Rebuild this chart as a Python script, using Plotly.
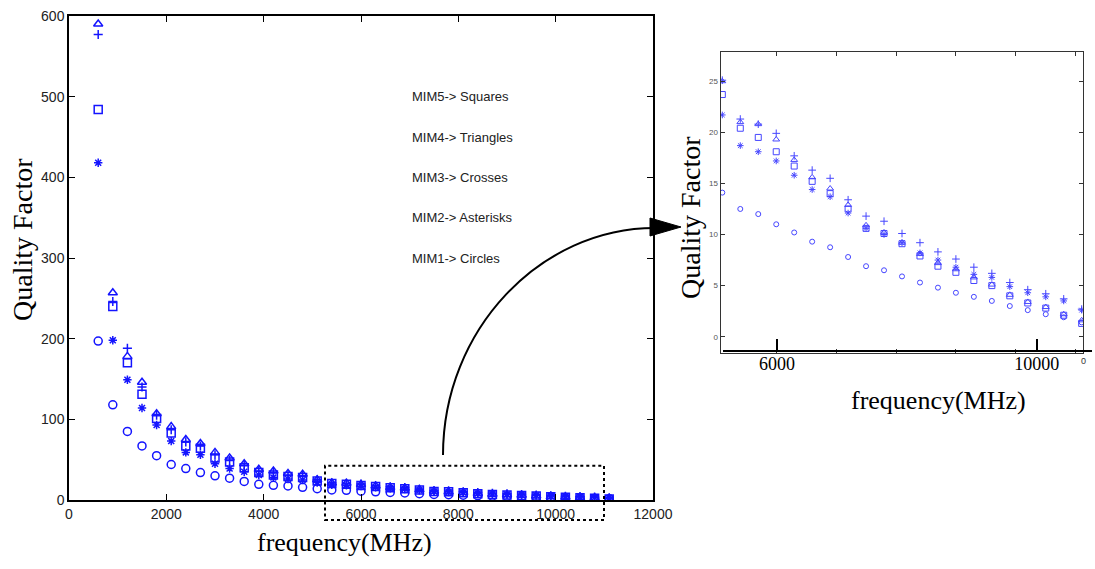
import plotly.graph_objects as go

# ---------------- data ----------------
freq = [600, 900, 1200, 1500, 1800, 2100, 2400, 2700, 3000, 3300, 3600, 3900,
        4200, 4500, 4800, 5100, 5400, 5700, 6000, 6300, 6600, 6900, 7200, 7500,
        7800, 8100, 8400, 8700, 9000, 9300, 9600, 9900, 10200, 10500, 10800, 11100]

mim1_circles = [197, 118, 85, 67, 55, 44, 39, 34, 30, 27, 23, 19.5,
                18.2, 17.4, 15.7, 14.1, 12.5, 12.0, 11.0, 10.2, 9.3, 8.75, 7.8, 6.9,
                6.5, 5.9, 5.3, 4.8, 4.3, 3.9, 3.5, 3.0, 2.6, 2.2, 1.9, 1.4]
mim2_asterisks = [418, 198, 149, 114, 93, 73, 59, 56, 45, 39, 35, 31,
                  28, 26, 24.8, 21.7, 18.7, 18.1, 17.2, 15.8, 14.4, 13.7, 12.1, 10.6,
                  10.0, 9.2, 8.2, 7.5, 6.8, 6.1, 5.8, 4.9, 4.3, 3.9, 3.5, 2.6]
mim3_crosses = [577, 246, 188, 140, 105, 87, 72, 67, 56, 49, 43, 36,
                34, 31, 30, 25.1, 21.3, 20.8, 19.9, 17.7, 16.3, 15.5, 13.4, 11.8,
                11.3, 10.1, 9.2, 8.3, 7.6, 6.8, 6.2, 5.3, 4.6, 4.2, 3.7, 2.7]
mim4_triangles = [590, 257, 178, 146, 107, 91, 75, 70, 59, 52, 45, 38,
                  36, 33, 32, 25.0, 21.0, 20.8, 19.3, 17.3, 15.6, 14.5, 12.9, 10.9,
                  10.2, 9.2, 8.1, 7.2, 6.6, 5.8, 5.1, 4.1, 3.4, 2.9, 2.2, 1.6]
mim5_squares = [484, 240, 170, 131, 101, 83, 67, 64, 52, 47, 40, 34,
                31, 29, 28, 23.7, 20.4, 19.5, 18.1, 16.7, 15.2, 14.0, 12.5, 10.6,
                10.1, 9.1, 7.9, 6.9, 6.3, 5.5, 5.0, 4.0, 3.3, 2.8, 2.1, 1.3]

legend_labels = ["MIM5-> Squares", "MIM4-> Triangles", "MIM3-> Crosses",
                 "MIM2-> Asterisks", "MIM1-> Circles"]
legend_y = [500, 450, 400, 350, 300]
legend_x = 7000

main_xticks = [0, 2000, 4000, 6000, 8000, 10000, 12000]
main_yticks = [0, 100, 200, 300, 400, 500, 600]
inset_frame_xticks = [6000, 7000, 8000, 9000, 10000, 11000]
inset_yticks = [0, 5, 10, 15, 20, 25]
inset_pasted_xticks = [6000, 10000]
inset_min_freq = 5100

# ---------------- layout helpers ----------------
W, H = 1095, 569


def px(x):
    return x / W


def py(y):
    return 1 - y / H


BLUE = "rgb(20,20,255)"
BLUE_L = "rgb(70,70,255)"
SERIF = "Liberation Serif"
SANS = "Liberation Sans"

series = [
    (mim1_circles, "circle-open", 8, 5),
    (mim2_asterisks, "asterisk-open", 7, 5.5),
    (mim3_crosses, "cross-thin-open", 6.5, 5.5),
    (mim4_triangles, "triangle-up-open", 8, 6),
    (mim5_squares, "square-open", 8, 6),
]

fig = go.Figure()

for vals, sym, s_main, s_in in series:
    fig.add_trace(go.Scatter(
        x=freq, y=vals, mode="markers", xaxis="x", yaxis="y",
        marker=dict(symbol=sym, size=s_main, color=BLUE,
                    line=dict(color=BLUE, width=1.5)),
        showlegend=False, hoverinfo="skip"))

for vals, sym, s_main, s_in in series:
    xs = [f for f in freq if f >= inset_min_freq]
    ys = [v for f, v in zip(freq, vals) if f >= inset_min_freq]
    fig.add_trace(go.Scatter(
        x=xs, y=ys, mode="markers", xaxis="x2", yaxis="y2",
        marker=dict(symbol=sym, size=s_in, color=BLUE_L,
                    line=dict(color=BLUE_L, width=1)),
        showlegend=False, hoverinfo="skip"))

# dummy trace so the pasted axis of the inset is drawn
fig.add_trace(go.Scatter(x=[None], y=[None], xaxis="x3", yaxis="y2",
                         mode="markers", showlegend=False, hoverinfo="skip"))

common = dict(showgrid=False, zeroline=False, showline=True, ticks="inside",
              automargin=False)

fig.update_layout(
    width=W, height=H,
    margin=dict(l=0, r=0, t=0, b=0, autoexpand=False),
    paper_bgcolor="white", plot_bgcolor="rgba(0,0,0,0)",
    showlegend=False,
    xaxis=dict(domain=[px(69), px(653)], range=[0, 12000], anchor="y",
               tickvals=main_xticks, tickformat="d", ticklen=6, tickwidth=1,
               tickcolor="black", linecolor="black", linewidth=1.5, mirror="ticks",
               tickfont=dict(family=SANS, size=14, color="#222"), **common),
    yaxis=dict(domain=[py(500), py(16)], range=[0, 600], anchor="x",
               tickvals=main_yticks, ticklen=6, tickwidth=1, tickcolor="black",
               linecolor="black", linewidth=1.5, mirror="ticks",
               tickfont=dict(family=SANS, size=14, color="#222"), **common),
    xaxis2=dict(domain=[px(720.7), px(1083.3)], range=[5073, 11127], anchor="y2",
                tickvals=inset_frame_xticks, showticklabels=False, ticklen=4,
                tickcolor="#333", linecolor="#333", linewidth=1.2, mirror="ticks",
                **common),
    yaxis2=dict(domain=[py(352.7), py(51.7)], range=[-1.566, 27.89], anchor="x2",
                tickvals=inset_yticks, ticklen=4, tickcolor="#333",
                linecolor="#333", linewidth=1.2, mirror="ticks",
                tickfont=dict(family=SANS, size=8, color="#555"), **common),
    xaxis3=dict(domain=[px(723), px(1092)], range=[5168.3, 10851.7],
                anchor="free", position=py(351),
                tickvals=inset_pasted_xticks, tickformat="d", ticklen=11, tickwidth=2,
                ticklabelstandoff=-4,
                tickcolor="black", linecolor="black", linewidth=2,
                tickfont=dict(family=SERIF, size=18, color="black"), **common),
)

annotations = []
for lab, yv in zip(legend_labels, legend_y):
    annotations.append(dict(x=legend_x, y=yv, xref="x", yref="y", text=lab,
                            showarrow=False, xanchor="left", yanchor="middle",
                            font=dict(family=SANS, size=13, color="#222")))

title_font = dict(family=SERIF, size=26, color="black")
ytitle_font = dict(family=SERIF, size=28, color="black")
annotations += [
    dict(x=px(22), y=py(240), text="Quality Factor", textangle=-90, font=ytitle_font),
    dict(x=px(344), y=py(542), text="frequency(MHz)", font=title_font),
    dict(x=px(690), y=py(218), text="Quality Factor", textangle=-90, font=ytitle_font),
    dict(x=px(938), y=py(400), text="frequency(MHz)", font=title_font),
    dict(x=px(1083), y=py(361), text="0", font=dict(family=SANS, size=9, color="#333")),
]
for a in annotations[len(legend_labels):]:
    a.update(xref="paper", yref="paper", showarrow=False,
             xanchor="center", yanchor="middle")
fig.update_layout(annotations=annotations)


def P(x, y):
    return f"{px(x):.5f},{py(y):.5f}"


shapes = [
    # dotted zoom rectangle
    dict(type="rect", xref="paper", yref="paper",
         x0=px(325), x1=px(604), y0=py(520), y1=py(465.7),
         line=dict(color="black", width=2, dash="dot")),
    # curved arrow
    dict(type="path", xref="paper", yref="paper",
         path=f"M {P(443, 455)} C {P(443, 330)} {P(540, 228)} {P(655, 228)}",
         line=dict(color="black", width=2)),
    # arrow head
    dict(type="path", xref="paper", yref="paper",
         path=f"M {P(650, 218)} L {P(681, 227)} L {P(650, 236)} Z",
         fillcolor="black", line=dict(color="black", width=1)),
]
fig.update_layout(shapes=shapes)

fig.write_html("out.html")
